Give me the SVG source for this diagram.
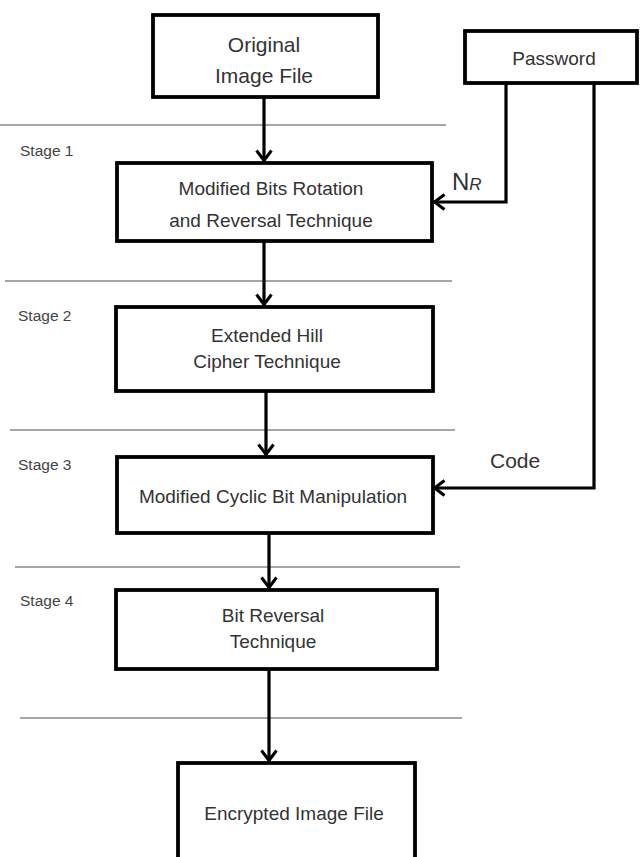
<svg xmlns="http://www.w3.org/2000/svg" width="644" height="857" viewBox="0 0 644 857">
<style>
.box{fill:#fff;stroke:#000;stroke-width:3.8}
.t{font-family:"Liberation Sans",Arial,sans-serif;font-size:19px;fill:#333;text-anchor:middle}
.st{font-family:"Liberation Sans",Arial,sans-serif;font-size:15.5px;fill:#444}
.sep{stroke:#888;stroke-width:1.4}
.c{fill:none;stroke:#000;stroke-width:3.2}
</style>
<defs>
<marker id="v" viewBox="0 0 13 18" refX="12" refY="9" markerWidth="13" markerHeight="18" markerUnits="userSpaceOnUse" orient="auto">
<path d="M1.5,1.5 L11.5,9 L1.5,16.5" fill="none" stroke="#000" stroke-width="3"/>
</marker>
</defs>
<rect width="644" height="857" fill="#fff"/>
<g id="separators">
<line class="sep" x1="0" y1="125" x2="446" y2="125"/>
<line class="sep" x1="5" y1="281" x2="452" y2="281"/>
<line class="sep" x1="10" y1="430" x2="455" y2="430"/>
<line class="sep" x1="15" y1="567" x2="460" y2="567"/>
<line class="sep" x1="20" y1="718" x2="462" y2="718"/>
</g>
<g id="stages">
<text class="st" x="20" y="156">Stage 1</text>
<text class="st" x="18" y="321">Stage 2</text>
<text class="st" x="18" y="470">Stage 3</text>
<text class="st" x="20" y="606">Stage 4</text>
</g>
<g id="connectors">
<path class="c" d="M264,98 V161" marker-end="url(#v)"/>
<path class="c" d="M264,241 V305" marker-end="url(#v)"/>
<path class="c" d="M266,391 V455" marker-end="url(#v)"/>
<path class="c" d="M269,533 V588" marker-end="url(#v)"/>
<path class="c" d="M269,669 V761" marker-end="url(#v)"/>
<path class="c" d="M506,83 V202 H434" marker-end="url(#v)"/>
<path class="c" d="M594,83 V488 H434" marker-end="url(#v)"/>
<text x="452" y="190" font-family="'Liberation Sans',Arial,sans-serif" font-size="24" fill="#333">N<tspan font-size="17" font-style="italic">R</tspan></text>
<text x="490" y="468" font-family="'Liberation Sans',Arial,sans-serif" font-size="21" fill="#333">Code</text>
</g>
<g id="original">
<rect class="box" x="153" y="15" width="225" height="82"/>
<text class="t" x="264" y="52" style="font-size:21px">Original</text>
<text class="t" x="264" y="83" style="font-size:21px">Image File</text>
</g>
<g id="password">
<rect class="box" x="465" y="31" width="172" height="52"/>
<text class="t" x="554" y="65">Password</text>
</g>
<g id="stage1">
<rect class="box" x="117" y="163" width="315" height="78"/>
<text class="t" x="271" y="195">Modified Bits Rotation</text>
<text class="t" x="271" y="227">and Reversal Technique</text>
</g>
<g id="stage2">
<rect class="box" x="116" y="307" width="317" height="84"/>
<text class="t" x="267" y="342">Extended Hill</text>
<text class="t" x="267" y="368">Cipher Technique</text>
</g>
<g id="stage3">
<rect class="box" x="117" y="457" width="316" height="76"/>
<text class="t" x="273" y="503">Modified Cyclic Bit Manipulation</text>
</g>
<g id="stage4">
<rect class="box" x="116" y="590" width="321" height="79"/>
<text class="t" x="273" y="622">Bit Reversal</text>
<text class="t" x="273" y="648">Technique</text>
</g>
<g id="encrypted">
<rect class="box" x="178" y="763" width="237" height="100"/>
<text class="t" x="294" y="820">Encrypted Image File</text>
</g>
</svg>
